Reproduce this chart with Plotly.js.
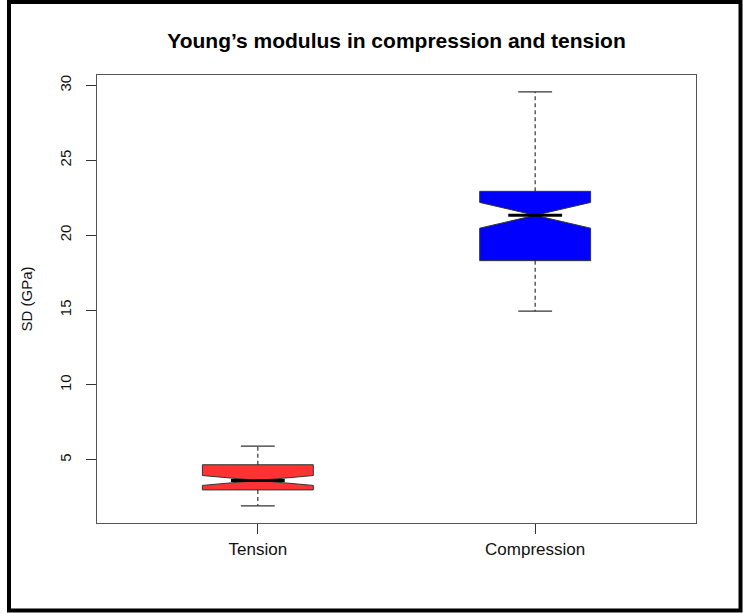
<!DOCTYPE html>
<html>
<head>
<meta charset="utf-8">
<script src="https://cdn.plot.ly/plotly-3.0.1.min.js"></script>
<style>
  html, body { margin: 0; padding: 0; background: #fff; }
  #chart { width: 743px; height: 613px; }
</style>
</head>
<body>
<div id="chart"></div>
<script>
// ---- data ----
const groups      = ["Tension", "Compression"];
const positions   = [1, 2];
const whiskerLow  = [1.93, 14.93];
const q1          = [2.99, 18.30];
const median      = [3.62, 21.33];
const q3          = [4.67, 22.93];
const whiskerHigh = [5.91, 29.57];
const notchSpan   = [0.33, 0.86];
const fillColors  = ["rgb(255,51,51)", "rgb(0,0,255)"];
const yTicks      = [5, 10, 15, 20, 25, 30];

// ---- styles ----
const BOX_W = 0.4;          // box width in x units
const CAP_HALF = 0.061;     // staple half width
const NOTCH_W = 0.5;        // plotly notchwidth
const LINE_COL = "#333";
const FONT = "Liberation Sans, Arial, sans-serif";

const traces = [];
groups.forEach((g, i) => {
  const c = positions[i];
  traces.push({
    type: "box",
    name: g,
    x: [c],
    q1: [q1[i]], median: [median[i]], q3: [q3[i]],
    lowerfence: [q1[i]], upperfence: [q3[i]],
    notched: true, notchspan: [notchSpan[i]], notchwidth: NOTCH_W,
    width: BOX_W, whiskerwidth: 0,
    fillcolor: fillColors[i],
    line: { color: LINE_COL, width: 1 },
    boxpoints: false, hoverinfo: "skip", showlegend: false
  });
  traces.push({
    type: "scatter", mode: "lines", showlegend: false, hoverinfo: "skip",
    x: [c, c, null, c, c],
    y: [q3[i], whiskerHigh[i], null, q1[i], whiskerLow[i]],
    line: { color: "#222", width: 1.1, dash: "4px,3px" }
  });
  traces.push({
    type: "scatter", mode: "lines", showlegend: false, hoverinfo: "skip",
    x: [c - CAP_HALF, c + CAP_HALF, null, c - CAP_HALF, c + CAP_HALF],
    y: [whiskerHigh[i], whiskerHigh[i], null, whiskerLow[i], whiskerLow[i]],
    line: { color: LINE_COL, width: 1.2 }
  });
  const mh = BOX_W / 2 * (1 - NOTCH_W) * 0.97;
  traces.push({
    type: "scatter", mode: "lines", showlegend: false, hoverinfo: "skip",
    x: [c - mh, c + mh],
    y: [median[i], median[i]],
    line: { color: "#000", width: 3 }
  });
});

const layout = {
  width: 743, height: 613,
  margin: { l: 97, r: 47, t: 75, b: 90 },
  paper_bgcolor: "#fff", plot_bgcolor: "#fff",
  showlegend: false,
  title: {
    text: "<b>Young\u2019s modulus in compression and tension</b>",
    font: { family: FONT, size: 21, color: "#000" },
    x: 0.5, xref: "paper", xanchor: "center",
    y: 1 - 41 / 613, yref: "container", yanchor: "middle"
  },
  xaxis: {
    range: [0.42, 2.58], tickvals: positions, ticktext: groups,
    ticks: "outside", ticklen: 10, tickcolor: "#333", tickwidth: 1,
    showline: true, mirror: true, linecolor: "#555", linewidth: 1.3,
    showgrid: false, zeroline: false, fixedrange: true,
    tickfont: { family: FONT, size: 17, color: "#111" }
  },
  yaxis: {
    range: [0.78, 30.7], tickvals: yTicks, ticktext: yTicks.map(String),
    tickangle: -90, ticklabelstandoff: 9,
    ticks: "outside", ticklen: 10, tickcolor: "#333", tickwidth: 1,
    showline: true, mirror: true, linecolor: "#555", linewidth: 1.3,
    showgrid: false, zeroline: false, fixedrange: true,
    tickfont: { family: FONT, size: 15, color: "#111" },
    title: { text: "SD (GPa)", font: { family: FONT, size: 15, color: "#111" }, standoff: 20 }
  },
  shapes: [{
    type: "rect", xref: "paper", yref: "paper",
    x0: (9 - 97) / 599, x1: (740.5 - 97) / 599,
    y0: (523 - 610.5) / 448, y1: (523 - 2) / 448,
    line: { color: "#000", width: 4 }, fillcolor: "rgba(0,0,0,0)"
  }]
};

Plotly.newPlot("chart", traces, layout, { displayModeBar: false, staticPlot: true });
</script>
</body>
</html>
